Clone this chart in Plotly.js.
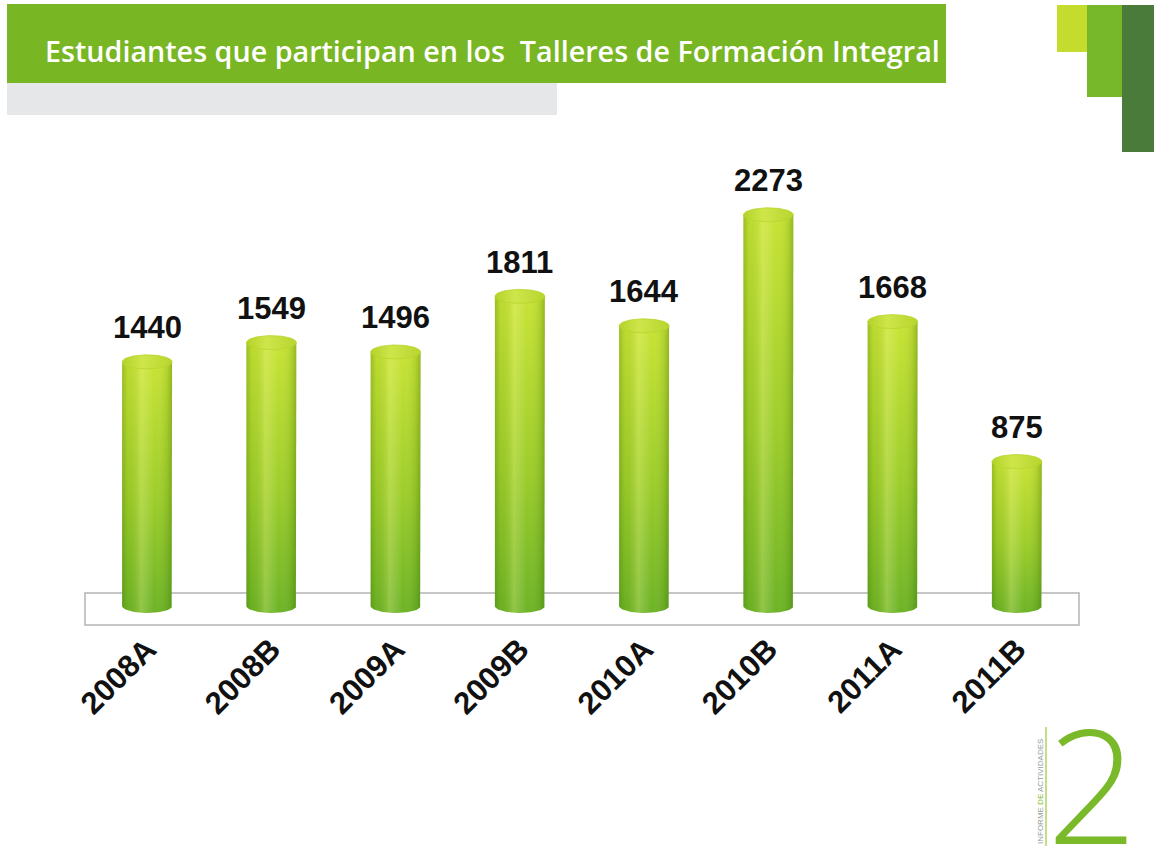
<!DOCTYPE html>
<html>
<head>
<meta charset="utf-8">
<script src="https://cdn.plot.ly/plotly-3.0.1.min.js"></script>
<style>html,body{margin:0;padding:0;background:#fff;}#chart{width:1154px;height:846px;}</style>
</head>
<body>
<div id="chart"></div>
<script>
// ---- data ----
const categories = ['2008A','2008B','2009A','2009B','2010A','2010B','2011A','2011B'];
const students = [1440, 1549, 1496, 1811, 1644, 2273, 1668, 875];
const titleText = 'Estudiantes que participan en los  Talleres de Formación Integral';

// ---- layout geometry ----
const W = 1154, H = 846;
const M = {l: 85, r: 75, t: 140, b: 216};
const PW = W - M.l - M.r, PH = H - M.t - M.b;
const zeroPx = 616, k = 0.1765;            // pixel of value 0, px per unit
const yMin = -((H - M.b) - zeroPx) / k;
const yMax = (zeroPx - M.t) / k;
const baseVal = 10 / k;                     // cylinder floor level
const eh = 7 / k;                           // ellipse half-height (units)
const hw = 0.201;                           // half width (category units)

function px2x(px){ return (px - M.l) / PW; }
function py2y(py){ return 1 - (py - M.t) / PH; }

const traces = [];
const N = 48;
students.forEach((v, i) => {
  // body with rounded bottom
  const bx = [i - hw, i - hw, i + hw, i + hw];
  const by = [baseVal, v, v, baseVal];
  for (let s = 1; s <= N; s++) {
    const t = Math.PI * s / N;
    bx.push(i + hw * Math.cos(t));
    by.push(baseVal - eh * Math.sin(t));
  }
  traces.push({
    type: 'scatter', x: bx, y: by, mode: 'lines', line: {width: 0},
    fill: 'toself', hoverinfo: 'skip', showlegend: false,
    fillgradient: {type: 'vertical', colorscale: [[0, '#6db326'], [0.45, '#9dcd2a'], [1, '#c8e334']]}
  });
  traces.push({
    type: 'scatter', x: bx, y: by, mode: 'lines', line: {width: 0},
    fill: 'toself', hoverinfo: 'skip', showlegend: false,
    fillgradient: {type: 'horizontal', colorscale: [
      [0, 'rgba(40,90,0,0.28)'], [0.12, 'rgba(80,130,0,0.08)'],
      [0.38, 'rgba(255,255,170,0.25)'], [0.65, 'rgba(255,255,255,0)'],
      [0.9, 'rgba(40,90,0,0.12)'], [1, 'rgba(30,80,0,0.30)']]}
  });
  // top ellipse
  const tx = [], ty = [];
  for (let s = 0; s <= 2 * N; s++) {
    const t = Math.PI * s / N;
    tx.push(i + hw * Math.cos(t));
    ty.push(v + eh * Math.sin(t));
  }
  traces.push({
    type: 'scatter', x: tx, y: ty, mode: 'lines', line: {width: 0.8, color: '#b6d52c'},
    fill: 'toself', hoverinfo: 'skip', showlegend: false,
    fillgradient: {type: 'horizontal', colorscale: [[0, '#b3d22a'], [0.4, '#cfe64a'], [1, '#b7d52e']]}
  });
});

const annotations = students.map((v, i) => ({
  x: i, y: v, xref: 'x', yref: 'y', text: String(v), showarrow: false,
  yanchor: 'middle', yshift: 34,
  font: {family: 'Liberation Sans, Arial, sans-serif', size: 31, color: '#111', weight: 'bold'}
}));

annotations.push({
  xref: 'paper', yref: 'paper', x: px2x(43), y: py2y(50), xanchor: 'left', yanchor: 'middle',
  text: titleText, showarrow: false,
  font: {family: 'Open Sans, Noto Sans, sans-serif', size: 28.7, color: '#ffffff', weight: 600}
});
annotations.push({
  xref: 'paper', yref: 'paper', x: px2x(1092), y: py2y(782), xanchor: 'center', yanchor: 'middle',
  text: '2', showarrow: false,
  font: {family: 'Open Sans, sans-serif', size: 158, color: '#7ab929', weight: 300}
});
annotations.push({
  xref: 'paper', yref: 'paper', x: px2x(1040), y: py2y(792), xanchor: 'center', yanchor: 'middle',
  text: 'INFORME <span style="color:#7ab929">DE</span> ACTIVIDADES', showarrow: false, textangle: -90,
  font: {family: 'Liberation Sans, Arial, sans-serif', size: 8, color: '#9a9a9a'}
});

const shapes = [
  {type: 'rect', xref: 'paper', yref: 'paper', x0: px2x(7), x1: px2x(946), y0: py2y(4), y1: py2y(83),
   fillcolor: '#79b623', line: {width: 0}, layer: 'below'},
  {type: 'rect', xref: 'paper', yref: 'paper', x0: px2x(7), x1: px2x(557), y0: py2y(83), y1: py2y(115),
   fillcolor: '#e6e7e8', line: {width: 0}, layer: 'below'},
  {type: 'rect', xref: 'paper', yref: 'paper', x0: px2x(1057), x1: px2x(1087), y0: py2y(5), y1: py2y(52),
   fillcolor: '#c4dc2e', line: {width: 0}},
  {type: 'rect', xref: 'paper', yref: 'paper', x0: px2x(1087), x1: px2x(1122), y0: py2y(5), y1: py2y(97),
   fillcolor: '#77b72a', line: {width: 0}},
  {type: 'rect', xref: 'paper', yref: 'paper', x0: px2x(1122), x1: px2x(1154), y0: py2y(5), y1: py2y(152),
   fillcolor: '#4b7b3a', line: {width: 0}},
  {type: 'line', xref: 'paper', yref: 'paper', x0: px2x(1046), x1: px2x(1046), y0: py2y(727), y1: py2y(846),
   line: {width: 1.2, color: '#9cc83a'}},
  // floor
  {type: 'rect', xref: 'paper', yref: 'paper', x0: 0, x1: 1, y0: py2y(593), y1: py2y(625),
   fillcolor: '#ffffff', line: {width: 1.5, color: '#b4b4b4'}, layer: 'below'}
];

const layout = {
  width: W, height: H, margin: M,
  paper_bgcolor: '#ffffff', plot_bgcolor: 'rgba(0,0,0,0)',
  showlegend: false,
  xaxis: {range: [-0.5, 7.5], tickvals: categories.map((c, i) => i), ticktext: categories,
          tickangle: -45, showgrid: false, zeroline: false, showline: false, ticks: '',
          fixedrange: true, ticklabelstandoff: -6,
          tickfont: {family: 'Liberation Sans, Arial, sans-serif', size: 31, color: '#111', weight: 'bold'}},
  yaxis: {range: [yMin, yMax], showgrid: false, zeroline: false, showline: false,
          showticklabels: false, ticks: '', fixedrange: true},
  annotations: annotations,
  shapes: shapes
};

Plotly.newPlot('chart', traces, layout, {displayModeBar: false, staticPlot: true});
</script>
</body>
</html>
